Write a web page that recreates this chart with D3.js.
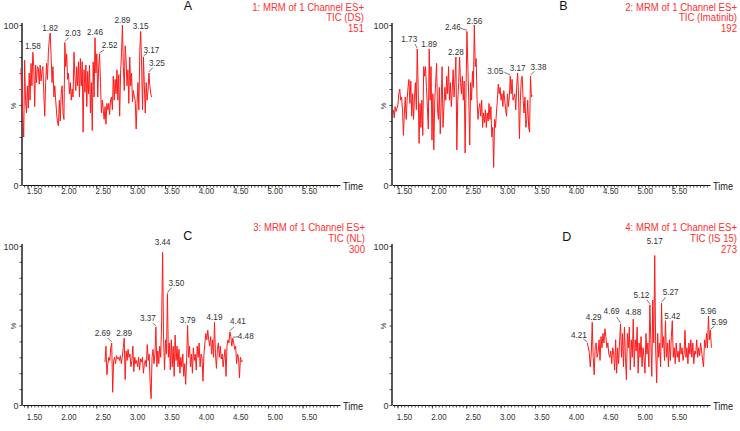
<!DOCTYPE html>
<html><head><meta charset="utf-8">
<script src="https://cdn.jsdelivr.net/npm/d3@7"></script>
<style>
body{margin:0;background:#fff}
svg{display:block}
text{font-family:"Liberation Sans",Arial,Helvetica,sans-serif}
</style>
</head><body>
<svg id="chart" width="740" height="431"></svg>
<script>
// ---------------- DATA ----------------
const xTickValues = [1.5, 2.0, 2.5, 3.0, 3.5, 4.0, 4.5, 5.0, 5.5];
const xTickLabels = ["1.50","2.00","2.50","3.00","3.50","4.00","4.50","5.00","5.50"];
const xDomain = [1.42, 6.045];
const yTickLabels = {0: "0", 100: "100"};
const panelLetters = ["A", "B", "C", "D"];
const channelTitles = ["1: MRM of 1 Channel ES+", "2: MRM of 1 Channel ES+", "3: MRM of 1 Channel ES+", "4: MRM of 1 Channel ES+"];
const traceNames = ["TIC (DS)", "TIC (Imatinib)", "TIC (NL)", "TIC (IS 15)"];
const intensities = ["151", "192", "300", "273"];

const timeRangeA = [1.405, 3.306];
const valuesA = [73,55,43,30,78,53,45,62,48,70,53,76,62,83,74,49,75,64,74,73,63,75,65,71,74,57,43,64,76,66,83,91,95,80,
  64,74,55,62,53,45,39,37,53,40,57,62,45,41,89,74,82,66,70,57,64,53,60,55,83,68,59,74,62,77,55,79,62,77,33,72,58,75,49,71,
  57,75,45,64,34,77,55,92,70,82,55,74,82,64,45,53,47,41,49,38,51,47,51,44,53,55,47,68,53,66,57,72,53,69,43,70,82,100,74,59,
  87,78,62,72,51,80,62,70,52,59,55,53,35,51,64,47,84,96,74,47,80,62,45,64,53,59,70,62,57,55];
const peakLabelsA = ["1.58","1.82","2.03","2.46","2.52","2.89","3.15","3.17","3.25"];

const timeRangeB = [1.439, 3.461];
const valuesB = [47,42,49,46,48,50,57,60,53,55,47,31,45,55,41,53,61,66,51,65,43,57,41,55,64,47,85,61,26,51,36,53,31,74,68,
  74,61,49,35,85,53,74,28,57,22,53,64,76,47,41,61,32,51,74,36,49,61,53,68,57,74,53,64,49,59,72,55,66,80,22,53,64,80,64,57,
  68,53,65,20,61,96,74,53,25,64,53,71,61,100,74,79,53,41,48,51,43,53,36,45,39,47,36,45,40,51,41,49,30,36,11,41,36,45,53,63,
  57,61,53,57,49,59,53,47,43,57,49,55,68,57,66,53,55,57,47,61,70,57,29,53,66,68,53,45,55,36,41,53,36,33,68,55,56];
const peakLabelsB = ["1.73","1.89","2.28","2.46","2.56","3.05","3.17","3.38"];

const timeRangeC = [2.627, 4.625];
const valuesC = [27,37,19,26,30,28,36,39,8,28,30,26,31,29,30,28,31,26,30,36,42,16,34,28,35,30,32,24,28,37,21,30,26,28,24,
  30,22,29,27,30,20,26,28,24,38,28,32,14,4,30,35,26,32,49,24,34,26,37,30,53,96,41,22,41,32,70,30,39,22,41,24,37,18,44,28,
  37,24,35,20,30,24,32,18,26,13,30,50,30,37,24,32,20,36,28,32,22,37,30,39,24,32,30,15,32,39,45,41,47,41,37,43,32,41,30,52,
  32,23,35,39,30,37,29,32,24,30,35,18,37,41,39,46,43,37,42,39,35,37,26,32,30,17,30,27,28];
const peakLabelsC = ["2.69","2.89","3.37","3.44","3.50","3.79","4.19","4.41","4.48"];

const timeRangeD = [4.261, 6.065];
const valuesD = [39,36,33,24,32,52,30,19,36,39,30,33,41,28,43,36,45,39,48,43,36,39,32,30,34,26,36,32,22,41,20,36,26,40,51,
  30,45,24,49,30,16,45,36,49,22,41,30,54,24,41,34,49,20,39,30,43,24,36,30,20,45,32,39,24,63,41,18,66,39,94,34,14,45,30,39,
  24,64,36,43,28,53,30,39,24,41,28,43,53,30,36,26,39,30,34,27,39,32,36,28,32,47,30,36,26,39,32,41,30,39,26,34,32,41,30,36,
  31,39,34,28,24,41,36,45,36,56,41,47,36];
const peakLabelsD = ["4.21","4.29","4.69","4.88","5.12","5.17","5.27","5.42","5.96","5.99"];

// ---------------- LAYOUT ----------------
// off: [text dx, text dy, leader dx, leader dy, anchor time nudge]
const panels = [
  {values: valuesA, range: timeRangeA, labels: peakLabelsA, ox: 22, y0: 185, y100: 25, headX: 364, headY: [10.5, 20.8, 31.5],
   letterX: 188, letterY: 10, tickY: 193.5, timeY: 190, pctY: 106, shift: 0.01,
   off: [[0,-3,0,0],[0,-2.5,0,0],[8,-6.5,4,-5],[0,-3,0,0],[10,-5.5,4.5,-4],[0,-2.5,0,0],[0,-2.5,0,0],[8,-4.5,3.5,-3.5],[8,-7.5,4,-5.5]]},
  {values: valuesB, range: timeRangeB, labels: peakLabelsB, ox: 392, y0: 185, y100: 25, headX: 737, headY: [10.5, 20.8, 31.5],
   letterX: 563.5, letterY: 10, tickY: 193.5, timeY: 190, pctY: 106, shift: 0.06,
   off: [[-8,-7,-2.5,-5],[0,-2.5,0,0],[0,-2.5,0,0],[-14,-1.5,-6,-3],[0,-1.5,0,0],[-15,-2.5,-6,-4,0.03],[0,-2,0,0],[8,-6,4,-5]]},
  {values: valuesC, range: timeRangeC, labels: peakLabelsC, ox: 22, y0: 405, y100: 246, headX: 365, headY: [231, 241.5, 253],
   letterX: 187.7, letterY: 240, tickY: 420, timeY: 410, pctY: 326, shift: 0.022,
   off: [[-9,-7,-4,-5],[0,-2.5,0,0],[-8,-6,-3,-4,-0.024],[0,-7.5,0,0],[9,-7.5,4,-6],[0,-2.5,0,0],[0,-2,0,0],[8,-7.5,4,-5],[13,1,6,-1.5]]},
  {values: valuesD, range: timeRangeD, labels: peakLabelsD, ox: 392, y0: 405, y100: 246, headX: 737, headY: [231, 241.5, 253],
   letterX: 566.7, letterY: 240.5, tickY: 420, timeY: 410, pctY: 326, shift: 0.06,
   off: [[-8.5,-5,-4,-4],[1.5,-2,0,0],[-9,-10,-4,-7],[0,-4,0,0],[-8.5,-7,-3,-5],[0,-12,0,0],[9,-8,4,-6],[0,-2,0,0],[0,-2,0,0],[9,-5.5,4,-4]]}
];
const axisWidth = 318;

const svg = d3.select("#chart");

function txt(g, x, y, s, o) {
  return g.append("text")
    .attr("transform", `translate(${x},${y}) scale(${o.sx || 1},1)`)
    .attr("text-anchor", o.anchor || "middle")
    .attr("font-size", o.size)
    .attr("fill", o.fill || "#222")
    .text(s);
}

panels.forEach((p, pi) => {
  const g = svg.append("g");
  const x = d3.scaleLinear().domain(xDomain).range([p.ox, p.ox + axisWidth]);
  const y = d3.scaleLinear().domain([0, 100]).range([p.y0, p.y100]);

  // minor x ticks
  const minor = d3.range(1.45, 6.0001, 0.05);
  g.append("g").attr("transform", `translate(0,${p.y0})`)
    .call(d3.axisBottom(x).tickValues(minor).tickSize(2.5).tickSizeOuter(0).tickFormat(""))
    .call(a => a.selectAll("line").attr("stroke", "#222").attr("stroke-width", 0.8))
    .call(a => a.select(".domain").attr("stroke", "#111").attr("stroke-width", 1.2));
  // major x ticks with labels
  g.append("g").attr("transform", `translate(0,${p.y0})`)
    .call(d3.axisBottom(x).tickValues(xTickValues).tickSize(3.5).tickSizeOuter(0)
      .tickFormat((d, i) => xTickLabels[i]))
    .call(a => a.select(".domain").remove())
    .call(a => a.selectAll("line").attr("stroke", "#222").attr("stroke-width", 0.8))
    .call(a => a.selectAll("text")
      .attr("y", null).attr("dy", null)
      .attr("transform", `translate(6.5,${p.tickY - p.y0}) scale(0.9,1)`)
      .attr("font-size", 8.8).attr("fill", "#333")
      .attr("font-family", '"Liberation Sans",Arial,sans-serif'));

  // y axis
  g.append("g").attr("transform", `translate(${p.ox},0)`)
    .call(d3.axisLeft(y).tickValues(d3.range(0, 101, 10)).tickSize(2.5).tickSizeOuter(0)
      .tickFormat(d => yTickLabels[d] || ""))
    .call(a => a.select(".domain").attr("stroke", "#111").attr("stroke-width", 1.4)
      .attr("d", `M0,${p.y0}V${p.y100 - 2}`))
    .call(a => a.selectAll("line").attr("stroke", "#222").attr("stroke-width", 0.8))
    .call(a => a.selectAll("text").attr("x", -3.5).attr("dy", "0.34em")
      .attr("font-size", 9).attr("fill", "#333")
      .attr("font-family", '"Liberation Sans",Arial,sans-serif'));

  // % label
  g.append("text")
    .attr("transform", `translate(${p.ox - 9},${p.pctY}) rotate(-90)`)
    .attr("text-anchor", "middle").attr("dy", "0.35em")
    .attr("font-size", 7.5).attr("fill", "#333").text("%");

  // Time label
  txt(g, p.ox + axisWidth + 3, p.timeY, "Time", {size: 10, anchor: "start", sx: 0.92, fill: "#222"});

  // trace
  const n = p.values.length;
  const times = p.values.map((v, i) => p.range[0] + i * (p.range[1] - p.range[0]) / (n - 1));
  const line = d3.line().x((d, i) => x(times[i])).y(d => y(d));
  g.append("path").datum(p.values)
    .attr("d", line).attr("fill", "none")
    .attr("stroke", "#ff1a1a").attr("stroke-width", 1).attr("stroke-linejoin", "round");

  // peak labels
  p.labels.forEach((lab, li) => {
    const [tdx, tdy, lx, ly, nudge] = p.off[li];
    const target = +lab + p.shift + (nudge || 0);
    let best = -1;
    times.forEach((t, i) => {
      if (Math.abs(t - target) <= 0.02 && (best < 0 || p.values[i] > p.values[best])) best = i;
    });
    if (best < 0) return;
    const ax = x(times[best]), ay = y(p.values[best]);
    if (lx !== 0 || ly !== 0) {
      g.append("line").attr("x1", ax).attr("y1", ay - 1).attr("x2", ax + lx).attr("y2", ay + ly)
        .attr("stroke", "#555").attr("stroke-width", 0.8);
    }
    txt(g, ax + tdx, ay + tdy, lab, {size: 9.5, sx: 0.86, fill: "#333"});
  });

  // panel letter
  txt(g, p.letterX, p.letterY, panelLetters[pi], {size: 12.5, fill: "#111"});

  // header (red)
  [channelTitles[pi], traceNames[pi], intensities[pi]].forEach((s, k) => {
    txt(g, p.headX, p.headY[k], s, {size: 10, anchor: "end", sx: 0.96, fill: "#ff3030"});
  });
});
</script>
</body></html>
